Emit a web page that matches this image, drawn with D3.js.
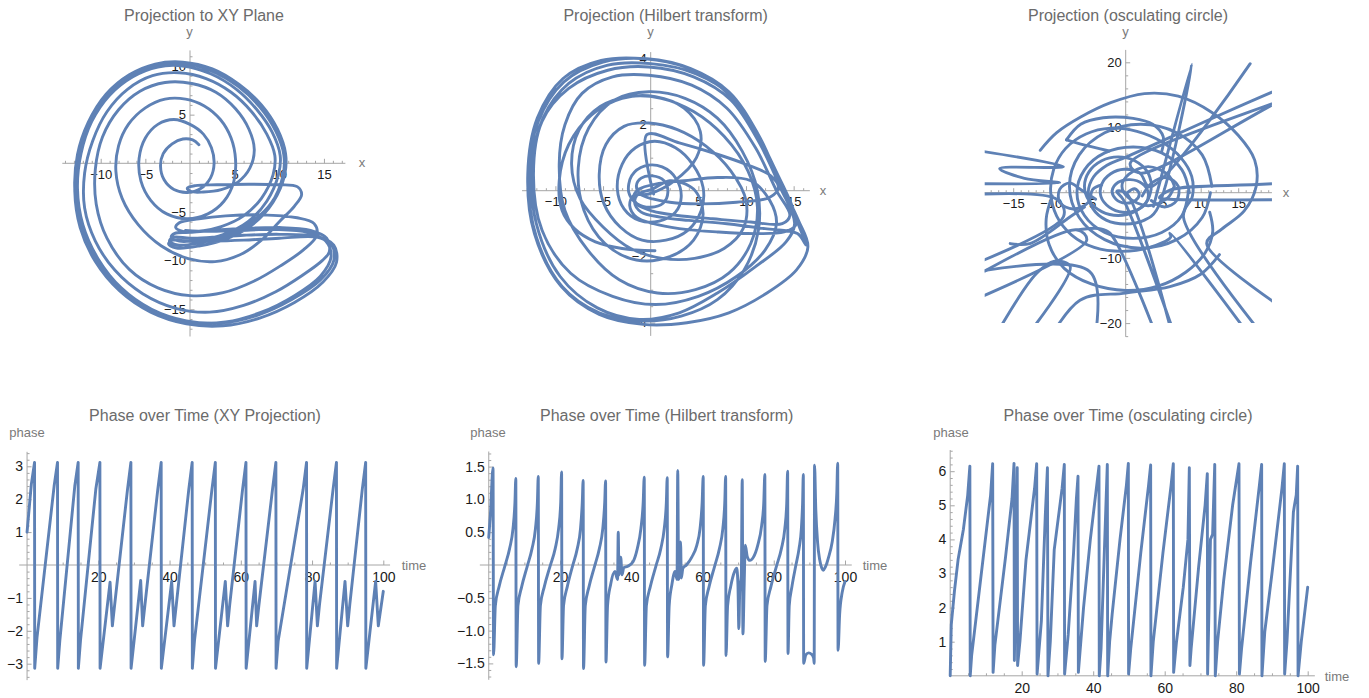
<!DOCTYPE html>
<html>
<head>
<meta charset="utf-8">
<script src="https://cdn.jsdelivr.net/npm/d3@7"></script>
<style>
  body { margin: 0; background: #fff; }
  svg { display: block; font-family: "Liberation Sans", Arial, sans-serif; }
</style>
</head>
<body>
<div id="chart"></div>
<script>
// ---- data ----

// trajectory projected to the x-y plane
const xyPath = [
  [1.0,1.9],[0.3,2.4],[-0.8,2.5],[-2.0,2.0],[-3.0,1.0],[-3.3,-0.3],[-2.9,-1.7],[-1.8,-2.7],[-0.3,-3.0],[1.2,-2.6],
  [2.3,-1.5],[2.7,0],[2.4,1.6],[1.5,3.0],[0,4.0],[-1.8,4.5],[-3.6,4.0],[-5.0,2.6],[-5.7,0.5],[-5.5,-1.8],
  [-4.4,-3.8],[-2.6,-5.2],[-0.3,-5.7],[2.0,-5.2],[3.8,-3.9],[4.9,-1.9],[5.1,0.4],[4.6,2.6],[3.4,4.5],[1.6,5.9],
  [-0.5,6.6],[-2.8,6.6],[-5.0,5.7],[-6.9,4.0],[-8.0,1.8],[-8.3,-0.8],[-7.6,-3.6],[-5.8,-6.3],[-3.2,-8.5],[-0.2,-9.8],
  [2.8,-10.1],[5.6,-9.4],[8.0,-7.9],[10.0,-6.0],[11.7,-4.4],[12.5,-3.2],[12.0,-2.4],[10.0,-2.2],[6.5,-2.15],[3.0,-2.2],
  [0.6,-2.3],[-0.3,-2.55],[0.1,-2.9],[1.5,-2.95],[3.5,-2.7],[5.4,-1.9],[6.7,-0.5],[7.2,1.4],[6.6,3.5],[5.1,5.6],
  [2.9,7.3],[0.2,8.2],[-2.8,8.3],[-5.6,7.4],[-8.0,5.5],[-9.8,2.7],[-10.6,-0.6],[-10.5,-4.2],[-9.3,-7.7],
  [-6.8,-10.9],[-3.6,-12.8],[0,-13.6],[3.7,-13.3],[7.2,-12.1],[10.2,-10.5],[12.7,-8.9],[14.2,-7.4],[13.9,-6.2],[12.0,-5.6],
  [8.0,-5.3],[4.0,-5.4],[1.0,-5.7],[-1.2,-6.1],[-1.6,-6.6],[-0.8,-7.0],[1.0,-7.0],[3.5,-6.5],[6.0,-5.4],[8.0,-3.6],
  [9.3,-1.2],[9.5,0.8],[8.6,3.0],[6.9,5.3],[4.6,7.3],[1.8,8.7],[-1.2,9.3],[-4.2,9.0],[-7.0,7.6],[-9.3,5.3],
  [-10.9,2.3],[-11.8,-1.0],[-11.8,-4.6],[-10.6,-8.0],[-8.4,-11.0],[-5.3,-13.4],[-1.6,-14.9],[2.2,-15.3],[6.0,-14.6],[9.6,-13.2],
  [12.6,-11.5],[14.8,-10.0],[15.6,-9.1],[15.3,-7.7],[13.5,-6.9],[10.0,-6.6],[6.0,-6.7],[2.5,-6.9],[0,-7.1],[-1.7,-7.2],
  [-2.1,-7.6],[-1.2,-8.0],[1.0,-7.9],[3.8,-7.3],[6.5,-6.0],[8.6,-3.9],[9.9,-1.2],[10.1,0.8],[9.2,3.2],[7.5,5.5],
  [5.2,7.6],[2.3,9.2],[-0.8,10.0],[-3.6,9.9],[-6.4,8.9],[-9.0,7.0],[-11.0,4.3],[-12.2,1.0],[-12.6,-2.6],[-12.0,-6.3],
  [-10.3,-9.8],[-7.7,-12.8],[-4.3,-15.0],[-0.4,-16.2],[3.6,-16.4],[7.6,-15.6],[11.4,-14.0],[14.6,-12.0],[16.1,-10.0],[15.8,-8.3],
  [14.0,-7.5],[10.0,-7.3],[6.0,-7.4],[2.5,-7.6],[0,-7.7],[-1.9,-7.6],[-2.3,-8.0],[-1.4,-8.4],[1.0,-8.2],[4.0,-7.5],
  [6.8,-6.1],[9.1,-4.1],[10.4,-1.3],[10.5,0.9],[9.6,3.3],[7.8,5.8],[5.4,7.9],[2.4,9.5],[-0.8,10.3],[-3.8,10.1],
  [-6.6,9.0],[-9.2,7.0],[-11.3,4.2],[-12.5,0.8],[-12.9,-2.9],[-12.3,-6.6],[-10.6,-10.1],[-7.9,-13.1],[-4.4,-15.3],[-0.4,-16.5],
  [3.7,-16.7],[7.8,-15.9],[11.7,-14.3],[14.9,-12.2],[16.4,-10.2],[16.1,-8.4],[14.3,-7.6],[10.0,-7.7],[6.0,-7.9],[2.5,-8.0],
  [-0.2,-8.0],[-2.0,-7.9],[-2.4,-8.3],[-1.5,-8.7],[1.0,-8.5],[4.0,-7.8],[7.0,-6.3],[9.3,-4.0],[10.6,-1.2],[10.7,1.0],
  [9.8,3.5],[8.0,6.0],[5.5,8.1],[2.5,9.7],[-0.8,10.4],[-3.9,10.2],[-6.8,9.1],[-9.4,7.1],[-11.4,4.2],[-12.6,0.9],
  [-12.9,-2.7],[-12.2,-6.4],[-10.5,-9.9],[-7.7,-12.9],[-4.1,-15.1],[0,-16.3],[4,-16.3],[8,-15.3],[11.7,-13.6],[14.6,-11.6],
  [15.8,-9.6],[15.2,-8.0],[13.2,-7.1],[9.5,-6.8],[5.5,-6.9],[2,-7.0],[-0.5,-6.9]
];

// x against its Hilbert transform
const hilbertPath = [
  [0.3,-0.1],[-0.4,1.7],[3.0,1.45],[6.5,1.15],[10.0,0.8],[12.6,0.45],[13.4,0.1],[12.5,-0.2],[9.0,-0.35],[5.0,-0.4],
  [2.0,-0.35],[0.2,-0.25],[-1.1,-0.1],[-1.5,0.15],[-1.0,0.38],[0.2,0.45],[1.4,0.3],[1.8,-0.05],[1.3,-0.38],[0,-0.5],
  [-1.4,-0.4],[-2.3,-0.05],[-2.0,0.45],[-0.6,0.75],[1.2,0.72],[2.7,0.35],[3.2,-0.2],[2.6,-0.65],[0.9,-0.92],[-1.2,-0.9],
  [-2.8,-0.55],[-3.5,0.05],[-3.0,0.8],[-1.6,1.3],[0.4,1.5],[2.6,1.3],[4.4,0.8],[5.5,0.1],[5.3,-0.6],[3.9,-1.2],
  [1.6,-1.5],[-0.9,-1.5],[-3.2,-1.1],[-4.9,-0.4],[-5.4,0.5],[-4.7,1.4],[-2.8,1.95],[-0.2,2.05],[2.8,1.85],[5.8,1.35],
  [8.4,0.6],[10.0,-0.3],[9.7,-1.15],[7.7,-1.75],[4.6,-2.05],[1.2,-2.05],[-2.1,-1.75],[-5.0,-1.1],[-7.4,-0.25],[-8.3,0.8],
  [-7.5,1.85],[-5.3,2.55],[-2.3,2.85],[1.1,2.8],[4.5,2.4],[7.7,1.65],[10.2,0.6],[11.2,-0.5],[10.5,-1.6],[8.2,-2.5],
  [4.7,-3.0],[0.7,-3.1],[-3.3,-2.7],[-6.6,-1.8],[-9.0,-0.6],[-9.6,0.8],[-9.0,2.0],[-7.2,2.95],[-4.0,3.45],[-0.2,3.5],
  [4.3,3.2],[8.0,2.5],[11.0,1.3],[13.2,0.0],[14.6,-0.75],[13.8,-1.0],[10.5,-0.95],[6.5,-0.85],[2.8,-0.75],[0.2,-0.62],
  [-1.4,-0.42],[-1.8,-0.18],[-1.2,0.05],[0.5,0.2],[3.5,0.3],[7.0,0.4],[10.5,0.3],[12.5,-0.3],[13.2,-1.0],[12.0,-1.8],
  [9.0,-2.6],[5.0,-3.2],[0.5,-3.45],[-4.0,-3.2],[-8.4,-2.5],[-11.4,-1.2],[-12.3,0.5],[-11.4,2.1],[-8.6,3.1],[-4.5,3.65],
  [-0.2,3.75],[4.5,3.45],[8.4,2.75],[11.4,1.45],[13.6,0.1],[15.1,-1.0],[14.2,-1.55],[11.0,-2.3],[7.0,-3.1],[3.0,-3.7],
  [-1.2,-3.9],[-5.6,-3.55],[-9.5,-2.6],[-12.0,-1.0],[-12.5,0.7],[-11.3,2.2],[-8.6,3.25],[-4.6,3.8],[0,3.85],[4.7,3.55],
  [8.6,2.85],[11.6,1.5],[13.9,0.0],[15.6,-1.1],[16.3,-1.65],[15.4,-1.3],[12.0,-1.15],[8.0,-1.0],[4.0,-0.9],[1.0,-0.8],
  [-1.0,-0.65],[-1.7,-0.35],[-1.3,-0.1],[0.2,0.05],[2.0,0.3],[4.5,0.05],[5.5,-0.7],[4.5,-1.5],[2.0,-2.0],[-1.5,-2.1],
  [-4.8,-1.6],[-7.0,-0.6],[-7.6,0.7],[-6.5,1.9],[-3.8,2.75],[-0.2,3.0],[3.6,2.8],[7.0,2.2],[9.6,1.2],[11.2,0.0],
  [11.3,-1.2],[9.8,-2.4],[7.0,-3.3],[3.2,-3.8],[-1.0,-3.95],[-5.4,-3.7],[-9.3,-2.9],[-12.0,-1.4],[-12.8,0.4],[-11.8,2.1],
  [-9.1,3.3],[-5.0,3.9],[-0.4,4.0],[4.2,3.7],[8.2,3.0],[11.3,1.7],[13.6,0.25],[15.5,-0.9],[16.5,-1.7],[15.3,-2.4],
  [12.2,-3.1],[8.2,-3.7],[3.8,-4.0],[-0.8,-4.05],[-5.4,-3.75],[-9.4,-2.9],[-12.2,-1.3],[-12.9,0.5],[-11.9,2.2],[-9.2,3.4],
  [-5.2,3.95],[-0.6,4.0],[3.6,3.75],[7.5,3.1],[10.8,1.9],[13.3,0.5],[15.0,-0.6],[15.2,-1.05],[14.0,-1.25],[11.0,-1.3],
  [7.0,-1.25],[3.0,-1.15],[0.3,-1.0],[-1.5,-0.8],[-2.2,-0.45],[-1.8,-0.15],[-0.2,-0.1],[2.5,0.3],[4.8,1.0],[5.2,1.8],
  [3.5,2.5],[0.5,2.85],[-3.0,2.8],[-6.2,2.3],[-8.6,1.4],[-9.6,0.3],[-9.3,-0.6],[-8.0,-1.15],[-5.8,-1.55],[-3.0,-1.75],
  [0.45,-1.82]
];

// centres of the osculating circle (several runs; far points are clipped away)
const oscSegments = [
  [[-11.4,6.5],[-9.2,9.2],[-6,11.6],[-2,13.8],[2.5,15.2],[7,14.8],[11.5,12.3],[15,8.8],[17.2,5],[17.4,1],
   [15.8,-2.8],[12.8,-5.6],[10.8,-7.8],[30,-24.6]],
  [[20.5,-25],[7.7,-3.7],[8.9,-0.5],[8.8,2.5],[7.4,5.3],[4.8,7.8],[1.5,9.4],[-2,9.9],[-5.3,9.0],[-8,6.8],
   [-9.6,3.6],[-10,0],[-9.2,-3.6],[-7.2,-6.5],[-4.2,-8.4],[-0.5,-9.0],[3.2,-8.4],[6,-6.8],[5.9,-6.2],[17.2,-23]],
  [[0.1,-0.1],[1.2,0.6],[1.8,-0.2],[1.3,-1.2],[0,-1.6],[-1.3,-1],[-1.8,0.3],[-1,1.6],[0.6,2],[2.2,1.4],
   [3,0],[2.7,-1.6],[1.4,-2.7],[-0.4,-3],[-2.2,-2.2],[-3.3,-0.6],[-3.2,1.3],[-2,2.9],[-0.2,3.6],[1.9,3.0],
   [3.2,0.9],[16.6,19.8]],
  [[3.7,-2.1],[8.8,19.7],[4.1,-2.7],[2.5,-4.2],[0,-4.8],[-2.6,-4.2],[-4.4,-2.4],[-5,0],[-4.3,2.4],[-2.5,4.2],
   [0.1,5.5],[30,19.7],[30,18.8],[0.6,4.5],[1.9,3.0],[30,17.7],[30,4.3],[5.9,0.4],[4.5,-0.8],[5.9,-1.0],[30,-1.0]],
  [[7.5,-25],[-0.3,-1.1],[-1.2,0.2],[0.1,-0.1],[6.9,-25]],
  [[5.1,-25],[-2.1,-6.2],[-3.5,-5.5],[-6.5,-5.7]],
  [[-30,8.2],[-8.3,4.0],[-16.8,3.7],[-13.5,2.2],[-8.8,1.5],[-30,1.5]],
  [[-30,-1.0],[-9.2,-1.0],[-8.3,-3.7],[-30,-15.3]],
  [[-30,-19.5],[-6.5,-5.7],[-5.2,-7.3],[-30,-21.2]],
  [[-17.4,-22],[-11.9,-12.4],[-9.5,-10.5],[-7.4,-11.3],[-13.2,-22]],
  [[-30,-14.4],[-4.8,-12.1],[-4.5,-25]],
  [[-11.5,-25],[-6.1,-16.5],[0,-15.4],[5.9,-14.4],[10,-12.5],[12.5,-9.5]],
  [[-15.4,-7.8],[-12.8,-7.8],[-7.4,-3.7],[-5.5,-2.2]],
  [[-9.8,-0.5],[-10.6,-4],[-10.2,-8],[-8.2,-11.6],[-4.6,-14.0],[0,-15.0],[4.4,-14.3],[8,-12.2],[10.6,-9.2],[11.6,-6],[11.2,-3]],
  [[-7.9,8.1],[-6,10.5],[-3,11.5],[1,11.4],[3.6,10.5],[5,8.6],[4.8,6.3]],
  [[-7.9,8.1],[-6.1,7.5],[-2.2,6.4]],
  [[2.2,-0.5],[3.5,1.5],[5.5,2.3],[7,1],[6.8,-1.2],[5.2,-2.2],[3.4,-1.2]],
  [[-4,-1],[-6,0.5],[-7.5,1.5],[-8.8,0.5],[-8.8,-1.5],[-7,-2.5],[-5,-1.5],[-4.4,0.5],[-3.2,1.2]],
  [[8.5,0],[7.5,3.5],[4.8,6.1],[1,7],[-2.8,6.1],[-5.5,3.5],[-6.5,0],[-5.5,-3.5],[-2.8,-6.1],[1,-7],[4.8,-6.1],[7.5,-3.5],[8.4,0.5]],
  [[11.5,1],[10.2,5.8],[6.8,9.2],[2,10.5],[-2.8,9.2],[-6.2,5.8],[-7.5,1],[-6.2,-3.8],[-2.8,-7.2],[2,-8.5],[6.8,-7.2],[10.2,-3.8],[11.3,0]],
  [[3.5,1],[2.9,3.2],[1.2,4.9],[-1,5.5],[-3.2,4.9],[-4.9,3.2],[-5.5,1],[-4.9,-1.2],[-3.2,-2.9],[-1,-3.5],[1.2,-2.9],[2.9,-1.2],[3.4,0.6]],
  [[6.5,1],[5.6,2.8],[3,4],[0.4,2.8],[-0.5,1],[0.4,-0.8],[3,-2],[5.6,-0.8],[6.4,0.8]]
];

// phase over time, XY projection  [time, phase]
const phaseXY = [
  [0,1.0],[1.2,2.45],[2.1,3.12],[2.15,-3.14],[2.8,-2.2],[7.6,2.4],[8.55,3.12],[8.6,-3.14],[9.2,-2.3],[13.4,2.4],
  [14.35,3.12],[14.4,-3.14],[15.0,-2.3],[19.3,2.3],[20.45,3.12],[20.5,-3.14],[23.3,-0.52],[23.95,-1.85],[24.6,-1.2],[28.2,2.3],
  [29.15,3.12],[29.2,-3.14],[31.9,-0.47],[32.45,-1.85],[33.1,-1.2],[36.7,2.3],[37.65,3.12],[37.7,-3.14],[40.6,-0.5],[41.25,-1.85],
  [41.9,-1.2],[45.4,2.3],[46.35,3.12],[46.4,-3.14],[47.0,-2.3],[51.9,2.3],[52.85,3.12],[52.9,-3.14],[55.65,-0.5],[56.3,-1.85],
  [56.9,-1.2],[60.5,2.3],[61.45,3.12],[61.5,-3.14],[64.0,-0.5],[64.45,-1.85],[65.1,-1.2],[68.9,2.3],[69.85,3.12],[69.9,-3.14],
  [70.5,-2.3],[77.5,2.3],[78.45,3.12],[78.5,-3.14],[80.85,-0.5],[81.5,-1.85],[82.1,-1.2],[85.9,2.3],[86.85,3.12],[86.9,-3.14],
  [89.25,-0.5],[90.0,-1.85],[90.6,-1.2],[94.1,2.3],[95.05,3.12],[95.1,-3.14],[97.85,-0.5],[98.6,-1.85],[100,-0.8]
];

// phase over time, Hilbert transform
const phaseHilbert = [
  [0,0.42],[0.5,0.8],[1.2,1.48],
  [1.35,-1.37],[1.85,-0.62],[2.9,-0.33],[4.5,-0.02],[5.85,0.25],[6.8,0.55],[7.35,0.95],[7.6,1.32],
  [7.7,-1.55],[8.2,-0.62],[9.25,-0.33],[10.8,-0.02],[12.15,0.25],[13.1,0.55],[13.65,0.95],[13.9,1.35],
  [14.0,-1.5],[14.5,-0.62],[15.6,-0.33],[17.2,-0.02],[18.65,0.25],[19.6,0.55],[20.2,0.95],[20.45,1.42],
  [20.55,-1.43],[21.0,-0.62],[22.05,-0.33],[23.5,-0.02],[24.85,0.25],[25.75,0.55],[26.25,0.95],[26.5,1.29],
  [26.6,-1.58],[27.1,-0.62],[28.15,-0.33],[29.7,-0.02],[31.05,0.25],[32.0,0.55],[32.55,0.95],[32.8,1.28],
  [32.9,-1.48],[33.35,-0.62],[34.2,-0.3],[35.4,-0.1],[36.15,-0.22],[36.35,0.5],[36.55,-0.15],[36.85,0.12],[37.05,0.12],[37.4,-0.15],
  [37.9,-0.04],[39.0,-0.02],[40.5,0.05],[41.7,0.25],[42.7,0.55],[43.35,0.95],[43.65,1.34],
  [43.75,-1.53],[44.25,-0.62],[45.35,-0.33],[46.9,-0.02],[48.3,0.25],[49.25,0.55],[49.85,0.95],[50.1,1.33],
  [50.2,-1.4],[50.65,-0.62],[51.4,-0.3],[52.3,-0.1],[52.85,-0.22],[53.05,1.44],[53.3,-0.22],[53.6,-0.05],[53.85,0.35],[54.05,-0.2],
  [54.5,-0.05],[55.5,0.0],[57.0,0.12],[58.4,0.3],[59.3,0.55],[59.9,0.95],[60.2,1.35],
  [60.3,-1.53],[60.8,-0.62],[61.85,-0.33],[63.4,-0.02],[64.75,0.25],[65.7,0.55],[66.25,0.95],[66.5,1.35],
  [66.6,-1.38],[67.05,-0.62],[67.9,-0.33],[69.0,-0.1],[69.6,-0.05],[69.95,-0.3],[70.2,-0.97],[70.45,-0.4],[70.9,-0.15],[71.15,1.3],
  [71.35,-1.05],[71.7,-0.3],[72.0,0.3],[72.6,0.12],[73.3,0.07],[74.3,0.12],[75.5,0.3],[76.6,0.6],[77.2,0.95],[77.5,1.38],
  [77.6,-1.47],[78.1,-0.62],[79.2,-0.33],[80.75,-0.02],[82.15,0.25],[83.1,0.55],[83.65,0.95],[83.9,1.43],
  [84.0,-1.35],[84.35,-0.62],[85.1,-0.33],[86.15,-0.02],[87.1,0.25],[87.75,0.55],[88.1,0.95],[88.3,1.38],
  [88.4,-1.5],[89.0,-1.37],[89.8,-1.34],[90.6,-1.36],[91.2,-1.42],[91.35,-1.5],[91.45,1.52],[91.8,0.85],[92.3,0.35],[92.9,0.08],
  [93.5,-0.05],[93.9,-0.08],[94.5,-0.03],[95.4,0.12],[96.4,0.35],[97.2,0.7],[97.7,1.1],[97.95,1.55],
  [98.05,-1.3],[98.5,-0.75],[99.2,-0.42],[100,-0.25]
];

// phase over time, osculating circle
const phaseOsc = [
  [0,0],[0.3,1.5],[1.2,2.5],[2.2,3.4],[3.7,4.3],[4.9,5.3],[5.5,6.15],[5.6,0],[6.0,0.6],[11.3,5.3],
  [11.88,6.22],[12.0,0.1],[12.5,0.9],[15.5,3.5],[17.3,5.2],[17.85,6.23],[17.95,0.45],[18.75,6.1],[18.85,0.3],[19.5,1.0],
  [21.2,3.4],[23.6,5.5],[24.19,6.22],[24.3,0.05],[25.5,1.6],[26.6,4.7],[27.2,6.1],[27.35,0.0],[28.0,1.0],[29.1,3.7],
  [31.3,5.5],[31.92,6.2],[32.0,0.05],[33.0,1.2],[34.5,3.6],[35.3,5.2],[35.75,5.85],[35.85,0.1],[37.3,2.0],[39.2,4.0],
  [41.0,5.6],[41.62,6.15],[41.7,0],[42.2,0.8],[43.95,6.2],[44.05,0],[44.6,1.0],[45.3,1.8],[47.5,4.0],[49.3,5.6],
  [49.83,6.23],[49.9,0.05],[50.5,0.8],[53.3,3.6],[55.5,5.6],[56.07,6.18],[56.15,0.0],[56.8,1.0],[59.5,3.6],[61.8,5.6],
  [62.41,6.22],[62.5,0.1],[63.3,1.0],[65.2,2.6],[66.5,4.0],[66.89,6.1],[67.05,0.3],[67.4,0.8],[69.5,3.2],[71.3,5.0],
  [71.92,5.93],[72.0,0.05],[72.8,4.0],[73.4,4.15],[74.0,6.2],[74.15,0.0],[74.8,1.0],[76.5,2.8],[79.0,5.0],[80.78,6.22],
  [80.9,0.05],[81.5,0.8],[84.0,3.3],[86.5,5.6],[87.12,6.2],[87.2,0.0],[88.0,1.3],[90.0,3.0],[92.8,5.5],[93.46,6.22],
  [93.55,0.05],[94.2,1.0],[96.0,4.8],[96.3,5.0],[96.8,5.3],[97.19,6.15],[97.3,0.0],[98.2,1.0],[100,2.6]
];

// tick labels
const projTicksX = [-10, -5, 5, 10, 15];
const xyTicksY = [-15, -10, -5, 5, 10];
const hilTicksY = [-4, -2, 2, 4];
const oscTicksX = [-15, -10, -5, 5, 10, 15];
const oscTicksY = [-20, -10, 10, 20];
const timeTicks = [20, 40, 60, 80, 100];
const phaseTicksXY = [-3, -2, -1, 1, 2, 3];
const phaseTicksHil = [-1.5, -1, -0.5, 0.5, 1, 1.5];
const phaseTicksOsc = [1, 2, 3, 4, 5, 6];

// ---- drawing ----
const COLOR = "#5e81b5";
const W = 1369, H = 698;

const svg = d3.select("#chart").append("svg")
  .attr("width", W)
  .attr("height", H);

const defs = svg.append("defs");
let clipId = 0;

function minorsOf(lo, hi, step, majors) {
  return d3.range(Math.ceil(lo / step) * step, hi + 1e-9, step)
    .map(v => +v.toFixed(4))
    .filter(v => v !== 0 && !majors.some(m => Math.abs(m - v) < 1e-6));
}

function drawPanel(p) {
  const x = d3.scaleLinear().domain(p.xDom).range(p.xRange);
  const y = d3.scaleLinear().domain(p.yDom).range(p.yRange);
  const g = svg.append("g");

  // title and axis names
  svg.append("text")
    .attr("x", p.title[1]).attr("y", p.title[2])
    .attr("text-anchor", "middle")
    .attr("font-size", "16px")
    .attr("fill", "#6b6b6b")
    .text(p.title[0]);

  svg.append("text")
    .attr("x", p.xName[1]).attr("y", p.xName[2])
    .attr("text-anchor", "middle")
    .attr("font-size", "13px")
    .attr("fill", "#7a7a7a")
    .text(p.xName[0]);

  svg.append("text")
    .attr("x", p.yName[1]).attr("y", p.yName[2])
    .attr("text-anchor", "middle")
    .attr("font-size", "13px")
    .attr("fill", "#7a7a7a")
    .text(p.yName[0]);

  // axis lines through the origin
  g.append("line")
    .attr("x1", x(p.xExt[0])).attr("x2", x(p.xExt[1]))
    .attr("y1", y(0)).attr("y2", y(0))
    .attr("stroke", "#a6a6a6");
  g.append("line")
    .attr("x1", x(0)).attr("x2", x(0))
    .attr("y1", y(p.yExt[0])).attr("y2", y(p.yExt[1]))
    .attr("stroke", "#a6a6a6");

  const xMin = minorsOf(p.xExt[0], p.xExt[1], p.xMinorStep, p.xTicks);
  const yMin = minorsOf(p.yExt[0], p.yExt[1], p.yMinorStep, p.yTicks);

  const styleAxis = sel => {
    sel.select(".domain").remove();
    sel.selectAll("line").attr("stroke", "#a6a6a6");
    sel.attr("font-family", null)
      .attr("font-size", p.tickFont);
    sel.selectAll("text").attr("fill", "#1a1a1a");
  };

  g.append("g")
    .attr("transform", `translate(0,${y(0)})`)
    .call(d3.axisBottom(x).tickValues(xMin).tickSize(-2.5).tickFormat(""))
    .call(styleAxis);
  g.append("g")
    .attr("transform", `translate(0,${y(0)})`)
    .call(d3.axisBottom(x).tickValues(p.xTicks).tickSize(-4.5).tickPadding(p.xPad).tickFormat(p.xFmt))
    .call(styleAxis);

  g.append("g")
    .attr("transform", `translate(${x(0)},0)`)
    .call(d3.axisLeft(y).tickValues(yMin).tickSize(-2.5).tickFormat(""))
    .call(styleAxis);
  g.append("g")
    .attr("transform", `translate(${x(0)},0)`)
    .call(d3.axisLeft(y).tickValues(p.yTicks).tickSize(-4.5).tickPadding(p.yPad).tickFormat(p.yFmt))
    .call(styleAxis);

  // clip region
  const id = "clip" + (clipId++);
  defs.append("clipPath").attr("id", id)
    .append("rect")
    .attr("x", x(p.clipX[0]))
    .attr("y", y(p.clipY[1]))
    .attr("width", x(p.clipX[1]) - x(p.clipX[0]))
    .attr("height", y(p.clipY[0]) - y(p.clipY[1]));

  const line = d3.line()
    .x(d => x(d[0]))
    .y(d => y(d[1]))
    .curve(p.curve);

  g.append("g")
    .attr("clip-path", `url(#${id})`)
    .selectAll("path")
    .data(p.series)
    .join("path")
    .attr("d", line)
    .attr("fill", "none")
    .attr("stroke", COLOR)
    .attr("stroke-width", 2.9)
    .attr("stroke-linejoin", "round")
    .attr("stroke-linecap", "round");
}

const intFmt = d3.format("d");

drawPanel({
  title: ["Projection to XY Plane", 204, 20.5],
  xName: ["x", 362, 167], yName: ["y", 189.5, 36],
  xDom: [0, 10], xRange: [190, 279.3],
  yDom: [0, 10], yRange: [163.3, 66],
  xExt: [-14.3, 17.4], yExt: [-17.8, 11.6],
  xTicks: projTicksX, yTicks: xyTicksY, xMinorStep: 1, yMinorStep: 1,
  xFmt: intFmt, yFmt: intFmt, xPad: 6, yPad: 4, tickFont: "13px",
  clipX: [-14.3, 17.4], clipY: [-17.8, 11.6],
  series: [xyPath], curve: d3.curveCatmullRom.alpha(0.5)
});

drawPanel({
  title: ["Projection (Hilbert transform)", 665.7, 20.5],
  xName: ["x", 823, 195], yName: ["y", 650.5, 36],
  xDom: [0, 10], xRange: [650.7, 746],
  yDom: [0, 4], yRange: [190.7, 58.7],
  xExt: [-13.5, 16.7], yExt: [-4.4, 4.2],
  xTicks: projTicksX, yTicks: hilTicksY, xMinorStep: 1, yMinorStep: 0.5,
  xFmt: intFmt, yFmt: intFmt, xPad: 6, yPad: 4, tickFont: "13px",
  clipX: [-13.5, 16.7], clipY: [-4.4, 4.2],
  series: [hilbertPath], curve: d3.curveCatmullRom.alpha(0.5)
});

drawPanel({
  title: ["Projection (osculating circle)", 1128, 20.5],
  xName: ["x", 1286, 197], yName: ["y", 1125.5, 36],
  xDom: [0, 10], xRange: [1125.7, 1200.7],
  yDom: [0, 20], yRange: [192.7, 62.3],
  xExt: [-18.8, 19.5], yExt: [-22.1, 21.9],
  xTicks: oscTicksX, yTicks: oscTicksY, xMinorStep: 1, yMinorStep: 2,
  xFmt: intFmt, yFmt: intFmt, xPad: 6, yPad: 4, tickFont: "13px",
  clipX: [-18.8, 19.5], clipY: [-20, 20],
  series: oscSegments, curve: d3.curveCatmullRom.alpha(0.5)
});

drawPanel({
  title: ["Phase over Time (XY Projection)", 205, 420.5],
  xName: ["time", 414, 569.5], yName: ["phase", 27, 437],
  xDom: [0, 100], xRange: [27.05, 383.3],
  yDom: [0, 3], yRange: [565, 466.3],
  xExt: [-2.2, 101.9], yExt: [-3.5, 3.44],
  xTicks: timeTicks, yTicks: phaseTicksXY, xMinorStep: 5, yMinorStep: 0.2,
  xFmt: intFmt, yFmt: intFmt, xPad: 7, yPad: 4, tickFont: "14px",
  clipX: [-2.2, 101.9], clipY: [-3.5, 3.44],
  series: [phaseXY], curve: d3.curveLinear
});

drawPanel({
  title: ["Phase over Time (Hilbert transform)", 666.7, 420.5],
  xName: ["time", 875, 569.5], yName: ["phase", 488, 437],
  xDom: [0, 100], xRange: [488.75, 845],
  yDom: [0, 1.5], yRange: [565, 466.6],
  xExt: [-2.5, 101.9], yExt: [-1.75, 1.73],
  xTicks: timeTicks, yTicks: phaseTicksHil, xMinorStep: 5, yMinorStep: 0.1,
  xFmt: intFmt, yFmt: d3.format(".1f"), xPad: 7, yPad: 4, tickFont: "14px",
  clipX: [-2.5, 101.9], clipY: [-1.75, 1.73],
  series: [phaseHilbert], curve: d3.curveMonotoneX
});

drawPanel({
  title: ["Phase over Time (osculating circle)", 1128, 420.5],
  xName: ["time", 1337, 680.5], yName: ["phase", 951, 437],
  xDom: [0, 100], xRange: [950.2, 1307.7],
  yDom: [0, 6], yRange: [675.8, 471.2],
  xExt: [0, 102], yExt: [0, 6.62],
  xTicks: timeTicks, yTicks: phaseTicksOsc, xMinorStep: 5, yMinorStep: 0.2,
  xFmt: intFmt, yFmt: intFmt, xPad: 7, yPad: 4, tickFont: "14px",
  clipX: [-1, 102], clipY: [-0.2, 6.62],
  series: [phaseOsc], curve: d3.curveLinear
});
</script>
</body>
</html>
